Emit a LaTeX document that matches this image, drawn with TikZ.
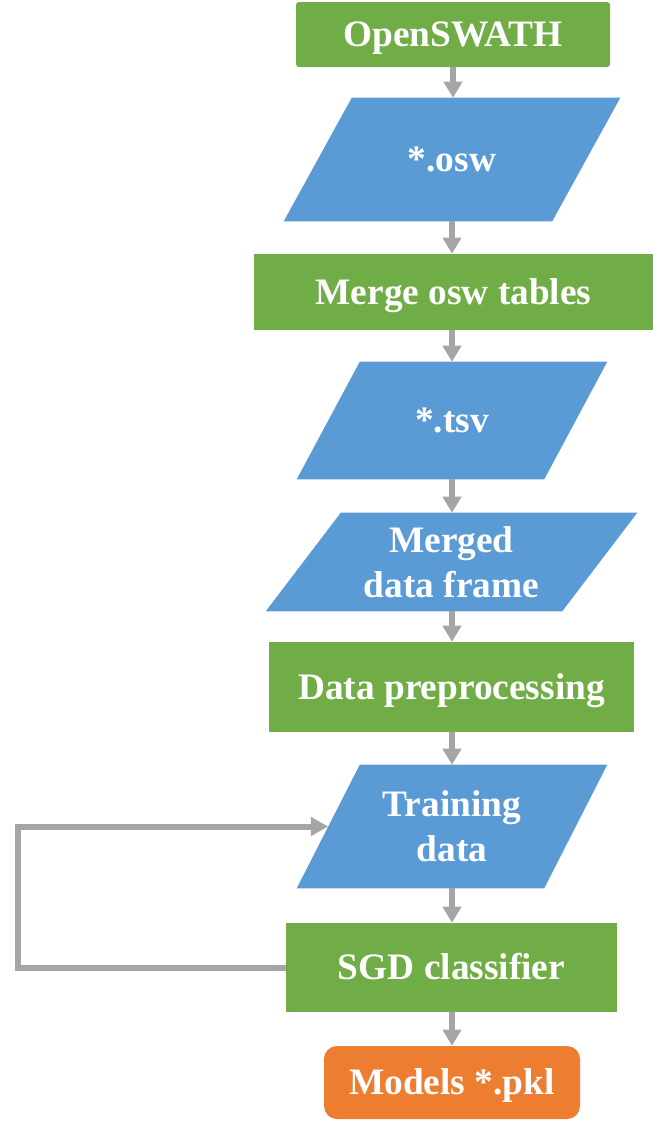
\documentclass[tikz,border=0pt]{standalone}
\usepackage{fontspec}
\setmainfont{Liberation Serif}
\usetikzlibrary{arrows.meta,calc,backgrounds}
\definecolor{cgreen}{HTML}{70AD47}
\definecolor{cblue}{HTML}{5B9BD5}
\definecolor{corange}{HTML}{ED7D31}
\definecolor{cgray}{HTML}{A5A5A5}
\begin{document}
\begin{tikzpicture}[x=0.75pt,y=-0.75pt,
  every node/.style={font=\bfseries\fontsize{28}{34}\selectfont, text=white, align=center, inner sep=0pt},
  oneline/.style={text height=18.5pt, text depth=0pt},
  procbox/.style={fill=cgreen, oneline},
  databox/.style={},
  endbox/.style={fill=corange, rounded corners=9.75pt, oneline},
  conn/.style={draw=cgray, line width=4.8pt, -{Triangle[width=13.5pt,length=12pt]}},
  loopline/.style={draw=cgray, line width=4.5pt, -{Triangle[width=13.5pt,length=13pt]}}]
\useasboundingbox (0,0) rectangle (653,1129);

\node[procbox, rounded corners=2.25pt, minimum width=235.5pt, minimum height=48.75pt] (open) at (453,34.5) {OpenSWATH};
\node[databox, oneline, minimum width=201pt, minimum height=92.25pt] (osw) at (452,159.5) {*.osw};
\node[procbox, minimum width=299.25pt, minimum height=57pt] (merge) at (453.5,292) {Merge osw tables};
\node[databox, oneline, minimum width=185.25pt, minimum height=87.75pt] (tsv) at (452,420.5) {*.tsv};
\node[databox, minimum width=222pt, minimum height=73.5pt] (mdf) at (451.5,562) {Merged\\data frame};
\node[procbox, minimum width=273.75pt, minimum height=67.5pt] (prep) at (451.5,687) {Data preprocessing};
\node[databox, minimum width=185.25pt, minimum height=92.25pt] (train) at (452,826.5) {Training\\data};
\node[procbox, minimum width=248.25pt, minimum height=66.75pt] (sgd) at (451.5,967.5) {SGD classifier};
\node[endbox, minimum width=192pt, minimum height=54.75pt] (models) at (452,1082.5) {Models *.pkl};

\begin{scope}[on background layer]
\fill[white] (0,0) rectangle (653,1129);
\foreach \n/\o in {osw/68, tsv/63, mdf/75, train/63}
  \fill[cblue] ($(\n.north west)+(\o/2,0)$) -- ($(\n.north east)+(\o/2,0)$)
    -- ($(\n.south east)-(\o/2,0)$) -- ($(\n.south west)-(\o/2,0)$) -- cycle;
\end{scope}

\coordinate (loopx) at (18,0);
\draw[conn] (open.south) -- (open.south |- osw.north);
\draw[conn] (osw.south) -- (osw.south |- merge.north);
\draw[conn] (osw.south |- merge.south) -- (tsv.north);
\draw[conn] (tsv.south) -- (mdf.north -| tsv.south);
\draw[conn] (tsv.south |- mdf.south) -- (tsv.south |- prep.north);
\draw[conn] (tsv.south |- prep.south) -- (train.north);
\draw[conn] (train.south) -- (train.south |- sgd.north);
\draw[conn] (train.south |- sgd.south) -- (models.north);
\draw[loopline] (sgd.west) -- (sgd.west -| loopx) |- (train.west);
\end{tikzpicture}
\end{document}
